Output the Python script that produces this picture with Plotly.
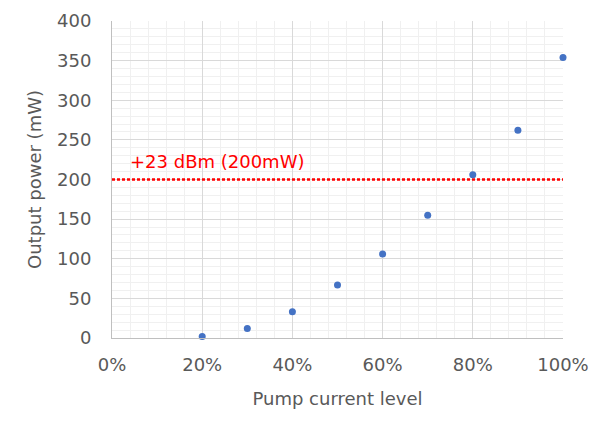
import plotly.graph_objects as go

pump_level = [0.2, 0.3, 0.4, 0.5, 0.6, 0.7, 0.8, 0.9, 1.0]
output_mw = [2, 12, 33, 67, 106, 155, 206, 262, 354]
threshold_x = [0, 1]
threshold_y = [200, 200]
threshold_label = "+23 dBm (200mW)"

FONT = "DejaVu Sans"
GRAY = "#595959"

fig = go.Figure()
fig.add_trace(go.Scatter(x=threshold_x, y=threshold_y, mode="lines",
                         line=dict(color="#FF0000", width=2.5, dash="3px,2px"),
                         hoverinfo="skip", showlegend=False))
fig.add_trace(go.Scatter(x=pump_level, y=output_mw, mode="markers",
                         marker=dict(color="#4472C4", size=7),
                         showlegend=False, cliponaxis=False))
fig.add_annotation(x=0.035, y=223, xref="x", yref="y", text=threshold_label,
                   showarrow=False, xanchor="left", yanchor="middle",
                   font=dict(family=FONT, size=18, color="#FF0000"))

fig.update_layout(
    width=597, height=428,
    margin=dict(l=104, r=42, t=13, b=98, autoexpand=False),
    paper_bgcolor="white", plot_bgcolor="white",
    font=dict(family=FONT, color=GRAY, size=18),
    xaxis=dict(range=[0, 1], tickformat=".0%", dtick=0.2, tick0=0,
               automargin=False,
               showgrid=True, gridcolor="#D9D9D9", gridwidth=1,
               minor=dict(dtick=0.04, showgrid=True, gridcolor="#F0F0F0", gridwidth=1),
               showline=True, linecolor="#BFBFBF", linewidth=1, mirror=False,
               zeroline=False, ticks="", ticklabelstandoff=10,
               tickfont=dict(size=18, color=GRAY),
               title=dict(text="Pump current level", standoff=18,
                          font=dict(size=18, color=GRAY))),
    yaxis=dict(range=[0, 400], dtick=50, tick0=0,
               automargin=False,
               showgrid=True, gridcolor="#D9D9D9", gridwidth=1,
               minor=dict(dtick=10, showgrid=True, gridcolor="#F0F0F0", gridwidth=1),
               showline=True, linecolor="#BFBFBF", linewidth=1,
               zeroline=False, ticks="", ticklabelstandoff=16,
               tickfont=dict(size=18, color=GRAY),
               title=dict(text="Output power (mW)", standoff=10,
                          font=dict(size=18, color=GRAY))),
)
fig.write_html("out.html")
